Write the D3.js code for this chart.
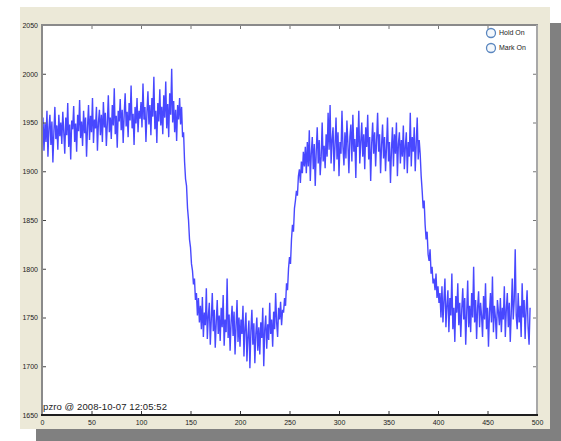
<!DOCTYPE html>
<html>
<head>
<meta charset="utf-8">
<script src="https://cdn.jsdelivr.net/npm/d3@7"></script>
<style>
  body { margin: 0; background: #ffffff; }
  svg { display: block; }
  .tick text { font-family: "Liberation Sans", Arial, sans-serif; font-size: 7px; fill: #222; }
</style>
</head>
<body>
<div class="graph"></div>
<script>
// signal readings, one per sample
let signal = [
  1938,1955,1921,1949,1930,1962,1915,1944,1958,1927,1951,1909,1940,1966,1933,1947,1922,1958,1936,1950,
  1928,1961,1940,1918,1955,1937,1970,1925,1948,1912,1952,1943,1967,1930,1949,1920,1958,1941,1973,1934,
  1951,1926,1962,1939,1955,1915,1946,1968,1932,1957,1940,1975,1929,1953,1944,1966,1921,1950,1963,1937,
  1958,1930,1971,1945,1960,1926,1949,1978,1940,1955,1933,1968,1947,1985,1938,1957,1924,1962,1951,1974,
  1942,1963,1929,1958,1980,1946,1961,1935,1970,1952,1988,1944,1959,1927,1966,1949,1975,1940,1962,1954,
  1971,1945,1990,1953,1966,1930,1960,1982,1948,1968,1937,1975,1956,1997,1943,1962,1929,1970,1951,1984,
  1947,1966,1938,1978,1955,1992,1944,1969,1935,1980,1958,2005,1950,1972,1940,1963,1931,1968,1953,1975,
  1948,1966,1935,1940,1910,1892,1885,1862,1850,1830,1822,1805,1798,1784,1790,1768,1775,1752,1770,1745,
  1762,1738,1771,1730,1755,1742,1780,1728,1751,1765,1722,1748,1775,1736,1758,1719,1745,1768,1733,1752,
  1726,1760,1740,1773,1721,1748,1735,1790,1729,1753,1716,1745,1762,1731,1756,1712,1741,1768,1725,1750,
  1720,1748,1733,1762,1710,1739,1755,1705,1731,1747,1698,1736,1758,1722,1744,1703,1733,1750,1716,1740,
  1712,1745,1729,1760,1700,1738,1752,1718,1743,1727,1765,1733,1748,1720,1756,1738,1775,1745,1730,1760,
  1748,1766,1742,1758,
  1755,1770,1762,1785,1778,1800,1812,1805,1830,1845,1838,1862,1870,1880,1875,1895,1902,1888,1910,1898,
  1920,1905,
  1925,1898,1930,1905,1942,1890,1918,1935,1902,1928,1885,1920,1945,1908,1932,1896,1915,1950,1910,1926,
  1903,1938,1915,1960,1922,1968,1908,1932,1945,1900,1927,1955,1912,1940,1895,1930,1918,1962,1925,1906,
  1940,1913,1952,1928,1898,1935,1948,1910,1958,1920,1933,1893,1945,1925,1962,1908,1930,1950,1915,1938,
  1902,1945,1925,1958,1912,1935,1890,1928,1950,1918,1940,1905,1932,1960,1920,1938,1898,1927,1948,1913,
  1935,1900,1925,1955,1910,1930,1888,1922,1945,1905,1938,1918,1950,1895,1928,1940,1908,1932,1915,1947,
  1902,1925,1940,1898,1930,1915,1960,1905,1935,1920,1945,1900,1928,1955,1912,1932,
  1918,1895,1880,1862,1870,1845,1830,1838,1815,1808,1820,1795,1802,1785,1790,1778,1795,1770,1782,1765,
  1775,1750,1782,1745,1768,1790,1740,1762,1778,1735,1770,1752,1795,1738,1760,1725,1772,1755,1785,1742,
  1765,1730,1758,1780,1748,1770,1722,1755,1788,1740,1762,1735,1775,1750,1802,1745,1768,1728,1760,1777,
  1740,1765,1752,1730,1772,1748,1785,1738,1760,1720,1755,1775,1745,1792,1735,1762,1750,1728,1768,1756,
  1742,1770,1735,1760,1748,1782,1730,1758,1775,1740,1765,1725,1755,1790,1748,1768,1820,1752,1738,1775,
  1745,1762,1730,1785,1750,1768,1728,1758,1778,1740,1722,1760
];
let xTicks = [0, 50, 100, 150, 200, 250, 300, 350, 400, 450, 500];
let yTicks = [1650, 1700, 1750, 1800, 1850, 1900, 1950, 2000, 2050];
let legendLabels = ["Hold On", "Mark On"];
let stamp = "pzro @ 2008-10-07 12:05:52";

let W = 561, H = 441;
let margin = {top: 25, right: 24, bottom: 26, left: 42},
    width = W - margin.left - margin.right,
    height = H - margin.top - margin.bottom;

let svg = d3.select(".graph").append("svg")
    .attr("width", W)
    .attr("height", H);

// window shadow + panel
svg.append("rect").attr("x", 36).attr("y", 23).attr("width", 530).attr("height", 422).attr("fill", "#808080");
svg.append("rect").attr("x", 20).attr("y", 7).attr("width", 530).attr("height", 422).attr("fill", "#ece9d8");

let g = svg.append("g").attr("transform", "translate(" + margin.left + "," + margin.top + ")");
g.append("rect").attr("width", width).attr("height", height).attr("fill", "#ffffff");

let x = d3.scaleLinear().domain([0, 500]).range([0, width]);
let y = d3.scaleLinear().domain([1650, 2050]).range([height, 0]);

// the trace
let line = d3.line()
    .x((d, i) => x(i))
    .y(d => y(d));
g.append("path")
    .datum(signal)
    .attr("fill", "none")
    .attr("stroke", "#1a1aff")
    .attr("stroke-opacity", 0.8)
    .style("stroke-width", "1.4px")
    .attr("d", line);

// axes, ticks pointing inward
g.append("g")
    .attr("transform", "translate(0," + height + ")")
    .call(d3.axisBottom(x).tickValues(xTicks).tickSize(-4).tickPadding(5).tickFormat(d3.format("d")))
    .call(a => a.select(".domain").remove())
    .call(a => a.selectAll("line").attr("stroke", "#333"));
g.append("g")
    .call(d3.axisTop(x).tickValues(xTicks).tickSize(-4).tickFormat(""))
    .call(a => a.select(".domain").remove())
    .call(a => a.selectAll("line").attr("stroke", "#777"));
g.append("g")
    .call(d3.axisLeft(y).tickValues(yTicks).tickSize(-4).tickPadding(4).tickFormat(d3.format("d")))
    .call(a => a.select(".domain").remove())
    .call(a => a.selectAll("line").attr("stroke", "#444"));
g.append("g")
    .attr("transform", "translate(" + width + ",0)")
    .call(d3.axisRight(y).tickValues(yTicks).tickSize(-4).tickFormat(""))
    .call(a => a.select(".domain").remove())
    .call(a => a.selectAll("line").attr("stroke", "#777"));

// box
g.append("line").attr("x1", -1).attr("x2", width + 1).attr("y1", 0).attr("y2", 0).attr("stroke", "#8a8a8a").style("stroke-width", "2px");
g.append("line").attr("x1", 0).attr("x2", 0).attr("y1", 0).attr("y2", height).attr("stroke", "#8a8a8a").style("stroke-width", "2px");
g.append("line").attr("x1", width).attr("x2", width).attr("y1", 0).attr("y2", height).attr("stroke", "#a8a8a8").style("stroke-width", "2px");
g.append("line").attr("x1", -1).attr("x2", width + 1).attr("y1", height).attr("y2", height).attr("stroke", "#1e1e1e").style("stroke-width", "2px");

// legend
let leg = g.selectAll(".leg")
    .data(legendLabels)
    .enter().append("g")
    .attr("class", "leg")
    .attr("transform", (d, i) => "translate(" + (width - 46) + "," + (8 + i * 15) + ")");
leg.append("circle")
    .attr("r", 4.5)
    .attr("fill", "#f4f8fc")
    .attr("stroke", "#5a86bf")
    .style("stroke-width", "1.3px");
leg.append("text")
    .attr("x", 8)
    .attr("dy", "0.35em")
    .style("font-family", "Liberation Sans, Arial, sans-serif")
    .style("font-size", "7px")
    .attr("fill", "#222")
    .text(d => d);

// time stamp
g.append("text")
    .attr("x", 1)
    .attr("y", height - 5)
    .attr("textLength", 124)
    .style("font-family", "Liberation Sans, Arial, sans-serif")
    .style("font-size", "9.5px")
    .attr("fill", "#222")
    .text(stamp);
</script>
</body>
</html>
